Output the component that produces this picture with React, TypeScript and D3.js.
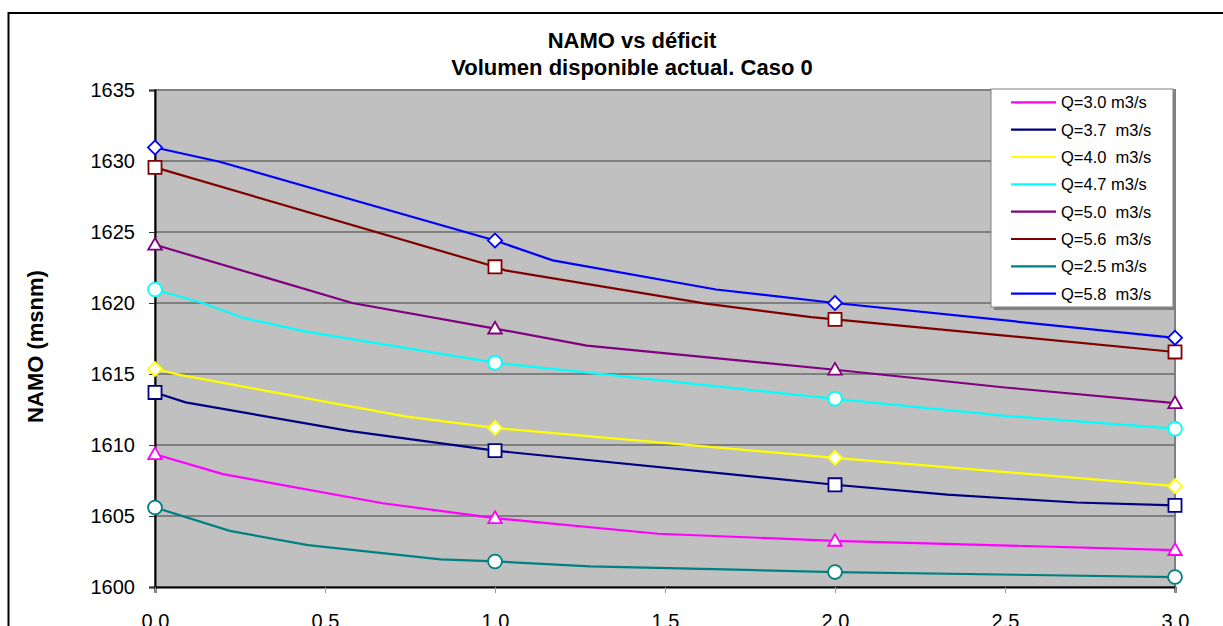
import React, { useRef, useEffect } from "react";
import * as d3 from "d3";

// deficit (x) and NAMO (y) per discharge series
const q30Def = [0, 0.2, 0.67, 1, 1.48, 2, 3];
const q30Namo = [1609.35, 1607.95, 1605.9, 1604.85, 1603.75, 1603.25, 1602.6];

const q37Def = [0, 0.09, 0.57, 1, 2, 2.33, 2.71, 3];
const q37Namo = [1613.7, 1613.0, 1611.0, 1609.6, 1607.2, 1606.5, 1605.95, 1605.75];

const q40Def = [0, 0.08, 0.74, 1, 2, 3];
const q40Namo = [1615.35, 1614.9, 1612.0, 1611.2, 1609.1, 1607.1];

const q47Def = [0, 0.14, 0.26, 0.44, 1, 2, 2.5, 3];
const q47Namo = [1620.95, 1620.0, 1618.95, 1618.0, 1615.8, 1613.25, 1612.05, 1611.15];

const q50Def = [0, 0.58, 1, 1.27, 2, 2.5, 3];
const q50Namo = [1624.1, 1620.0, 1618.2, 1617.0, 1615.3, 1614.05, 1612.95];

const q56Def = [0, 1, 1.03, 1.62, 1.93, 2, 3];
const q56Namo = [1629.55, 1622.55, 1622.3, 1619.95, 1619.0, 1618.85, 1616.55];

const q25Def = [0, 0.22, 0.45, 0.84, 1, 1.28, 1.74, 2, 3];
const q25Namo = [1605.6, 1603.95, 1602.95, 1601.95, 1601.8, 1601.45, 1601.2, 1601.05, 1600.7];

const q58Def = [0, 0.19, 1, 1.17, 1.65, 2, 3];
const q58Namo = [1630.95, 1629.95, 1624.4, 1623.0, 1620.95, 1620.0, 1617.55];

// only these deficits carry a marker
const markedDeficits = [0, 1, 2, 3];

const seriesLabels = [
  "Q=3.0 m3/s",
  "Q=3.7  m3/s",
  "Q=4.0  m3/s",
  "Q=4.7 m3/s",
  "Q=5.0  m3/s",
  "Q=5.6  m3/s",
  "Q=2.5 m3/s",
  "Q=5.8  m3/s",
];
const seriesColors = ["#FF00FF", "#000080", "#FFFF00", "#00FFFF", "#800080", "#800000", "#008080", "#0000FF"];
const seriesMarkers = ["triangle", "square", "diamond", "circle", "triangle", "square", "circle", "diamond"];
const seriesDef = [q30Def, q37Def, q40Def, q47Def, q50Def, q56Def, q25Def, q58Def];
const seriesNamo = [q30Namo, q37Namo, q40Namo, q47Namo, q50Namo, q56Namo, q25Namo, q58Namo];

const xTicks = [0, 0.5, 1, 1.5, 2, 2.5, 3];
const yTicks = [1600, 1605, 1610, 1615, 1620, 1625, 1630, 1635];

const FONT = "'Liberation Sans', Arial, sans-serif";

const App = () => {
  const ref = useRef<SVGSVGElement | null>(null);

  useEffect(() => {
    if (!ref.current) return;
    const svg = d3.select(ref.current);
    svg.selectAll("*").remove();

    const left = 155;
    const right = 1175;
    const top = 90;
    const bottom = 587;

    const x = d3.scaleLinear().domain([0, 3]).range([left, right]);
    const y = d3.scaleLinear().domain([1600, 1635]).range([bottom, top]);

    svg.append("rect").attr("width", 1223).attr("height", 626).attr("fill", "#fff");

    // outer chart border
    svg
      .append("rect")
      .attr("x", 8.5)
      .attr("y", 13)
      .attr("width", 1240)
      .attr("height", 640)
      .attr("fill", "none")
      .attr("stroke", "#000")
      .attr("stroke-width", 2);

    // titles
    svg
      .append("text")
      .attr("x", 632)
      .attr("y", 48)
      .attr("text-anchor", "middle")
      .style("font-family", FONT)
      .style("font-weight", "bold")
      .style("font-size", "22px")
      .text("NAMO vs déficit");
    svg
      .append("text")
      .attr("x", 632)
      .attr("y", 75)
      .attr("text-anchor", "middle")
      .style("font-family", FONT)
      .style("font-weight", "bold")
      .style("font-size", "22px")
      .text("Volumen disponible actual. Caso 0");

    // plot area
    svg
      .append("rect")
      .attr("x", left)
      .attr("y", top)
      .attr("width", right - left)
      .attr("height", bottom - top)
      .attr("fill", "#C0C0C0")
      .attr("stroke", "#808080")
      .attr("stroke-width", 2);

    // grid
    svg
      .append("g")
      .selectAll("line")
      .data(yTicks.slice(1, -1))
      .enter()
      .append("line")
      .attr("x1", left)
      .attr("x2", right)
      .attr("y1", (d) => y(d))
      .attr("y2", (d) => y(d))
      .attr("stroke", "#6a6a6a")
      .attr("stroke-width", 1.3);

    // y axis
    const yAxis = svg
      .append("g")
      .attr("transform", `translate(${left},0)`)
      .call(d3.axisLeft(y).tickValues(yTicks).tickSize(6).tickPadding(14).tickFormat(d3.format("d")));
    yAxis.select(".domain").attr("stroke", "#000").attr("stroke-width", 2);
    yAxis.selectAll(".tick line").attr("stroke", "#333");
    yAxis
      .selectAll("text")
      .style("font-family", FONT)
      .style("font-size", "20px")
      .attr("fill", "#000");

    // x axis
    const xAxis = svg
      .append("g")
      .attr("transform", `translate(0,${bottom})`)
      .call(d3.axisBottom(x).tickValues(xTicks).tickSize(6).tickPadding(0).tickFormat(d3.format(".1f")));
    xAxis.select(".domain").attr("stroke", "#000").attr("stroke-width", 2);
    xAxis.selectAll(".tick line").attr("stroke", "#999");
    xAxis
      .selectAll("text")
      .attr("y", 41)
      .attr("dy", null)
      .style("font-family", FONT)
      .style("font-size", "20px")
      .attr("fill", "#000");

    // y label
    svg
      .append("text")
      .attr("transform", `translate(43,${(top + bottom) / 2 + 8}) rotate(-90)`)
      .attr("text-anchor", "middle")
      .style("font-family", FONT)
      .style("font-weight", "bold")
      .style("font-size", "22px")
      .text("NAMO (msnm)");

    const line = d3
      .line<[number, number]>()
      .x((d) => x(d[0]))
      .y((d) => y(d[1]));

    const symbolFor = (kind: string) => {
      if (kind === "circle") return d3.symbol().type(d3.symbolCircle).size(150)();
      if (kind === "square") return d3.symbol().type(d3.symbolSquare).size(170)();
      if (kind === "triangle") return d3.symbol().type(d3.symbolTriangle).size(80)();
      return d3.symbol().type(d3.symbolSquare).size(100)();
    };

    seriesDef.forEach((defs, i) => {
      const pts = defs.map((d, j) => [d, seriesNamo[i][j]] as [number, number]);
      const g = svg.append("g");
      g.append("path")
        .datum(pts)
        .attr("fill", "none")
        .attr("stroke", seriesColors[i])
        .attr("stroke-width", 2.2)
        .attr("d", line);
      g.selectAll("path.marker")
        .data(pts.filter((p) => markedDeficits.includes(p[0])))
        .enter()
        .append("path")
        .attr("class", "marker")
        .attr("d", symbolFor(seriesMarkers[i]))
        .attr("transform", (p) => {
          const rot = seriesMarkers[i] === "diamond" ? " rotate(45)" : "";
          const dy = seriesMarkers[i] === "triangle" ? 1 : 0;
          return `translate(${x(p[0])},${y(p[1]) + dy})${rot}`;
        })
        .attr("fill", "#fff")
        .attr("stroke", seriesColors[i])
        .attr("stroke-width", 1.8);
    });

    // legend
    const lx = 991;
    const ly = 89;
    const lw = 182;
    const lh = 218;
    svg
      .append("rect")
      .attr("x", lx + 3)
      .attr("y", ly + 3)
      .attr("width", lw)
      .attr("height", lh)
      .attr("fill", "#808080");
    svg
      .append("rect")
      .attr("x", lx)
      .attr("y", ly)
      .attr("width", lw)
      .attr("height", lh)
      .attr("fill", "#fff")
      .attr("stroke", "#808080")
      .attr("stroke-width", 1);

    const rowY = d3.scaleLinear().domain([0, 7]).range([102.3, 293.7]);
    const leg = svg
      .append("g")
      .selectAll("g")
      .data(seriesLabels)
      .enter()
      .append("g")
      .attr("transform", (_, i) => `translate(0,${rowY(i)})`);
    leg
      .append("line")
      .attr("x1", 1011)
      .attr("x2", 1056)
      .attr("stroke", (_, i) => seriesColors[i])
      .attr("stroke-width", 2.2);
    leg
      .append("text")
      .attr("x", 1061)
      .attr("dy", "0.36em")
      .style("font-family", FONT)
      .style("font-size", "16.5px")
      .style("white-space", "pre")
      .text((d) => d);
  }, []);

  return (
    <svg
      ref={ref}
      width={1223}
      height={626}
      style={{ position: "absolute", left: 0, top: 0, display: "block" }}
    />
  );
};

export default App;
